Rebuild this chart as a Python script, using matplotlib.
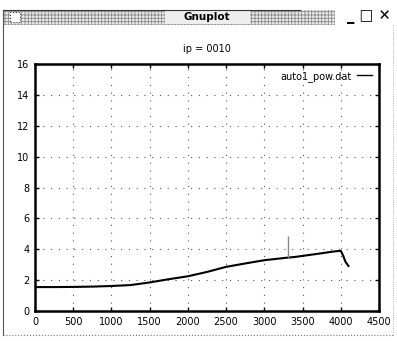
import matplotlib
matplotlib.use("Agg")
import matplotlib.pyplot as plt
from matplotlib.patches import Rectangle
from matplotlib.lines import Line2D

# auto1_pow.dat (read back from the plot window)
pos = [0, 250, 500, 750, 1000, 1250, 1500, 1750, 2000, 2250, 2500, 2750,
       3000, 3200, 3310, 3400, 3500, 3750, 3900, 4000, 4030, 4060, 4100]
power = [1.55, 1.55, 1.56, 1.58, 1.62, 1.68, 1.85, 2.06, 2.25, 2.53, 2.86, 3.08,
         3.29, 3.40, 3.46, 3.50, 3.57, 3.74, 3.85, 3.90, 3.60, 3.20, 2.92]
spike_x = [3310]
spike_top = [4.86]

xticks = [0, 500, 1000, 1500, 2000, 2500, 3000, 3500, 4000, 4500]
yticks = [0, 2, 4, 6, 8, 10, 12, 14, 16]

W, H = 397, 341
plt.rcParams['hatch.linewidth'] = 0.6
fig = plt.figure(figsize=(W / 100, H / 100), dpi=100)
fig.patch.set_facecolor('white')

# window decoration
def fx(px):
    return px / W

def fy(py):
    return 1 - py / H

fig.add_artist(Rectangle((fx(4), fy(25)), fx(331), 15 / H, transform=fig.transFigure,
                         facecolor='#ececec', edgecolor='#8a8a8a', hatch='+++++',
                         linewidth=0))
fig.add_artist(Rectangle((fx(165), fy(24)), fx(85), 13 / H, transform=fig.transFigure,
                         facecolor='#eeeeee', edgecolor='none', linewidth=0))
fig.add_artist(Rectangle((fx(10), fy(22)), fx(10), 10 / H, transform=fig.transFigure,
                         facecolor='white', edgecolor='#444444', linewidth=0.8,
                         linestyle=':'))
fig.text(fx(207), fy(17), 'Gnuplot', ha='center', va='center', fontsize=7.5,
         fontweight='bold', color='black')
fig.text(fx(369), fy(17), '_ \u25a1 \u2715', ha='center', va='center', fontsize=10.5,
         fontweight='bold', color='black', family=['DejaVu Sans'])
fig.add_artist(Line2D([fx(3), fx(300)], [fy(10), fy(10)], transform=fig.transFigure,
                      color='#333333', linewidth=0.8))
fig.add_artist(Line2D([fx(3), fx(3)], [fy(10), fy(335)], transform=fig.transFigure,
                      color='#555555', linewidth=0.8))
fig.add_artist(Line2D([fx(3), fx(393)], [fy(335), fy(335)], transform=fig.transFigure,
                      color='#777777', linewidth=0.8, linestyle=':'))
fig.add_artist(Line2D([fx(393), fx(393)], [fy(25), fy(335)], transform=fig.transFigure,
                      color='#999999', linewidth=0.6, linestyle=':'))

ax = fig.add_axes([fx(35), fy(311), (379 - 35) / W, (311 - 64) / H])
ax.plot(pos, power, color='black', linewidth=1.5, label='auto1_pow.dat')
ax.vlines(spike_x, [3.46], spike_top, color='#888888', linewidth=1)

ax.set_xlim(0, 4500)
ax.set_ylim(0, 16)
ax.set_xticks(xticks)
ax.set_yticks(yticks)
ax.tick_params(direction='in', length=3, width=1, labelsize=7, pad=4,
               top=True, right=True)
ax.grid(True, linestyle=(0, (1, 6)), color='#555555', linewidth=0.8)
for spine in ax.spines.values():
    spine.set_linewidth(1.8)

ax.set_title('ip = 0010', fontsize=7, pad=9)
leg = ax.legend(loc='upper right', frameon=False, fontsize=7, markerfirst=False,
                handlelength=1.6, borderaxespad=0.3, handletextpad=0.5)
for line in leg.get_lines():
    line.set_linewidth(1)

fig.savefig('out.png', dpi=100)
